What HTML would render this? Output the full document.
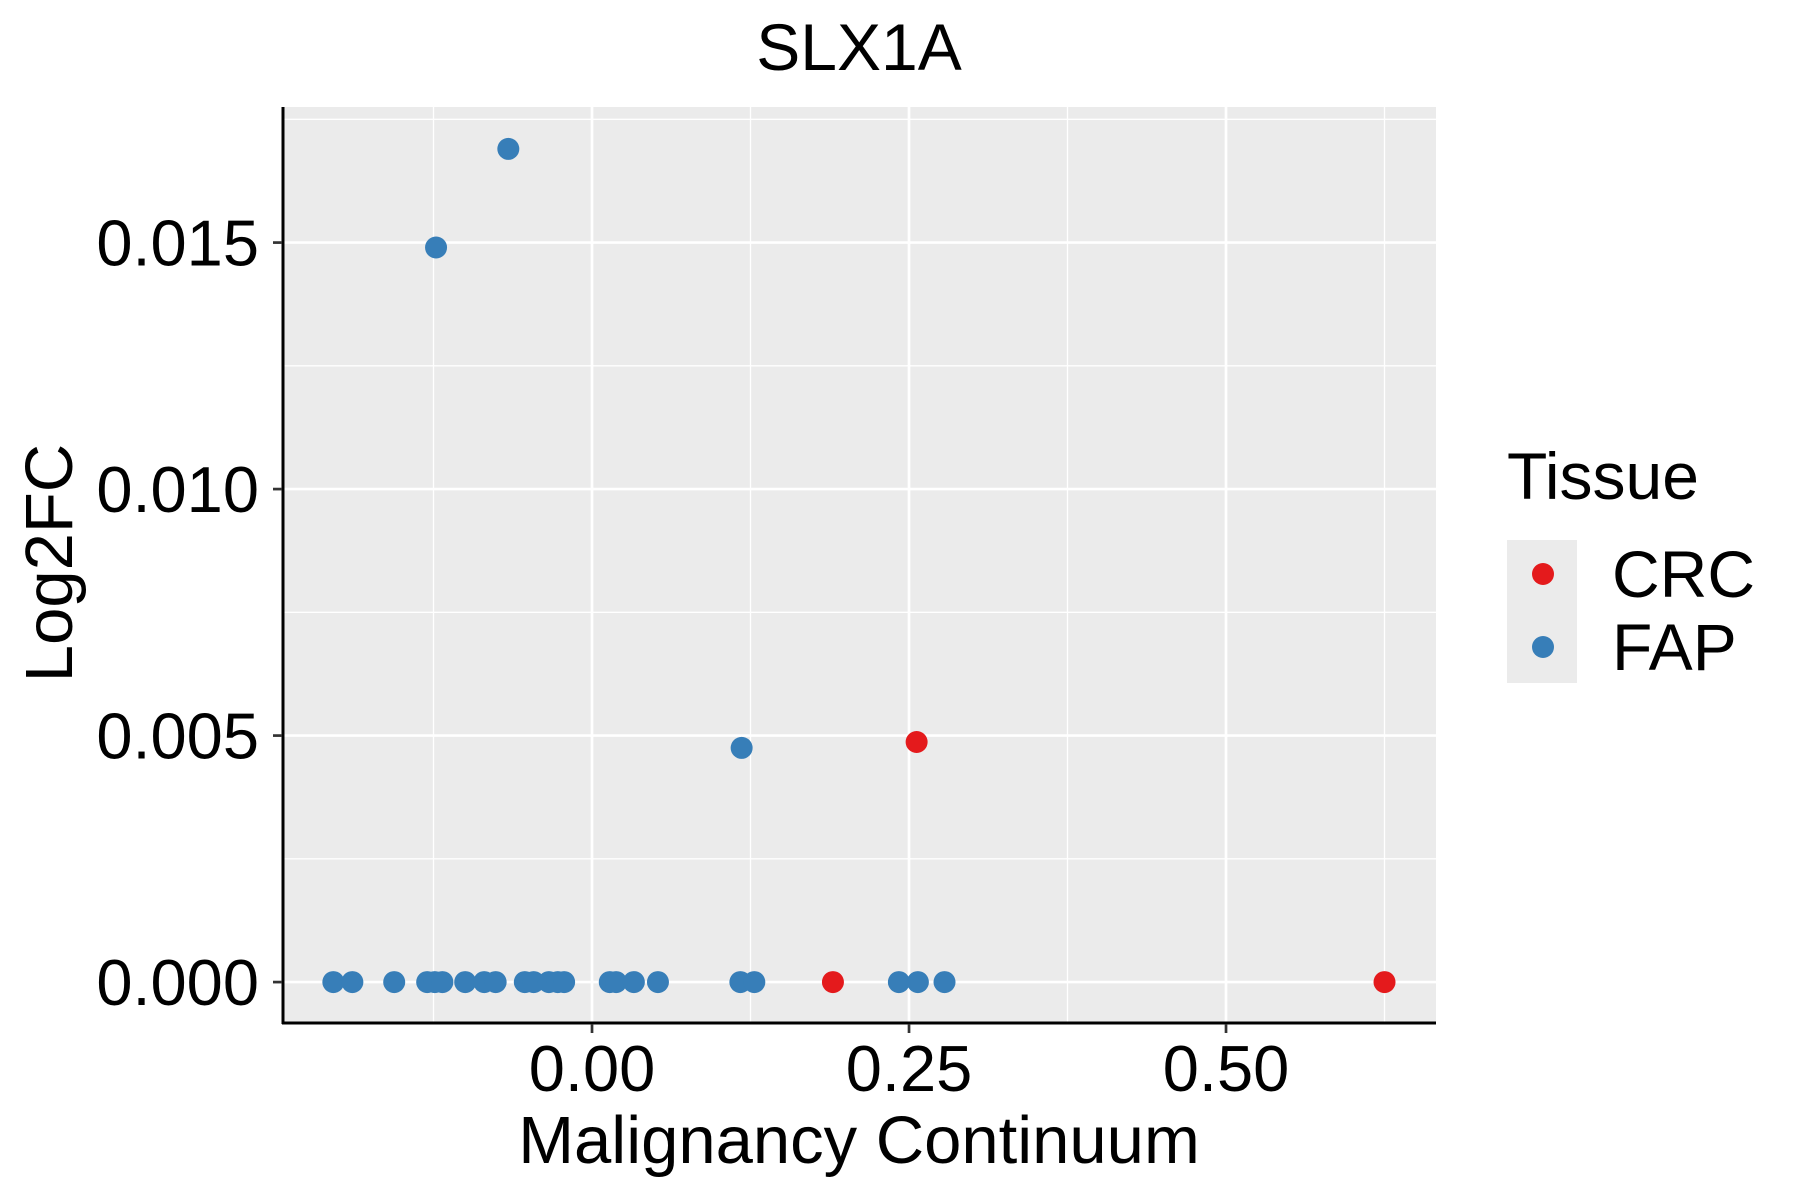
<!DOCTYPE html>
<html><head><meta charset="utf-8"><style>
html,body{margin:0;padding:0;background:#fff}
svg{display:block;font-family:"Liberation Sans",sans-serif}
</style></head><body>
<svg id="chart" width="1800" height="1200" viewBox="0 0 1800 1200">
<text x="859" y="70" font-size="66" text-anchor="middle">SLX1A</text>
<rect x="283" y="107" width="1153" height="916" fill="#ebebeb"/>
<g id="grid"></g>
<g id="points"></g>
<line x1="283" y1="107" x2="283" y2="1024" stroke="#000" stroke-width="3"/>
<line x1="282" y1="1023" x2="1436" y2="1023" stroke="#000" stroke-width="3"/>
<g id="axes"></g>
<text x="859" y="1163" font-size="67" text-anchor="middle">Malignancy Continuum</text>
<text transform="translate(72,563) rotate(-90)" font-size="67" text-anchor="middle">Log2FC</text>
<g>
<text x="1507" y="499" font-size="66">Tissue</text>
<rect x="1507" y="540" width="70" height="143" fill="#ebebeb"/>
<circle cx="1543" cy="574" r="11" fill="#e41a1c"/>
<circle cx="1543" cy="647" r="11" fill="#377eb8"/>
<text x="1612" y="597" font-size="66">CRC</text>
<text x="1612" y="670" font-size="66">FAP</text>
</g>
</svg>
<script>
const xTicks=[0,0.25,0.5];
const xTickLabels=["0.00","0.25","0.50"];
const yTicks=[0,0.005,0.01,0.015];
const yTickLabels=["0.000","0.005","0.010","0.015"];
const xMinor=[-0.125,0.125,0.375,0.625];
const yMinor=[0.0025,0.0075,0.0125,0.0175];
const fapX=[-0.204,-0.189,-0.156,-0.130,-0.124,-0.118,-0.100,-0.085,-0.076,-0.053,-0.046,-0.034,-0.027,-0.022,0.014,0.019,0.033,0.052,0.117,0.128,0.242,0.257,0.278,-0.123,-0.066,0.118];
const fapY=[0,0,0,0,0,0,0,0,0,0,0,0,0,0,0,0,0,0,0,0,0,0,0,0.0149,0.0169,0.00475];
const crcX=[0.190,0.625,0.256];
const crcY=[0,0,0.00487];
const X0=283,X1=1436,Y0=1023,Y1=107;
const xmin=-0.2437,xmax=0.6656,ymin=-0.00083,ymax=0.01775;
const sx=v=>X0+(v-xmin)/(xmax-xmin)*(X1-X0);
const sy=v=>Y0-(v-ymin)/(ymax-ymin)*(Y0-Y1);
const NS="http://www.w3.org/2000/svg";
const grid=document.getElementById('grid'),pts=document.getElementById('points'),axes=document.getElementById('axes');
function mk(tag,attrs,parent){const e=document.createElementNS(NS,tag);for(const k in attrs)e.setAttribute(k,attrs[k]);parent.appendChild(e);return e;}
xMinor.forEach(v=>{const e=mk('line',{x1:sx(v),x2:sx(v),y1:Y1,y2:Y0,stroke:'#fff','stroke-width':1.3},grid);

});
yMinor.forEach(v=>{const e=mk('line',{x1:X0,x2:X1,y1:sy(v),y2:sy(v),stroke:'#fff','stroke-width':1.3},grid);

});
xTicks.forEach((v,i)=>{const e=mk('line',{x1:sx(v),x2:sx(v),y1:Y1,y2:Y0,stroke:'#fff','stroke-width':2.7},grid);


const t=mk('line',{x1:sx(v),x2:sx(v),y1:Y0+1,y2:Y0+10,stroke:'#333','stroke-width':2.7},axes);


const l=mk('text',{x:sx(v),y:1091,'font-size':65,'text-anchor':'middle',fill:'#000'},axes);l.textContent=xTickLabels[i];

});
yTicks.forEach((v,i)=>{const e=mk('line',{x1:X0,x2:X1,y1:sy(v),y2:sy(v),stroke:'#fff','stroke-width':2.7},grid);


const t=mk('line',{x1:X0-10,x2:X0-1,y1:sy(v),y2:sy(v),stroke:'#333','stroke-width':2.7},axes);


const l=mk('text',{x:259,y:sy(v)+23,'font-size':65,'text-anchor':'end',fill:'#000'},axes);l.textContent=yTickLabels[i];

});
fapX.forEach((v,i)=>{const c=mk('circle',{cx:sx(v),cy:sy(fapY[i]),r:11,fill:'#377eb8'},pts);

});
crcX.forEach((v,i)=>{const c=mk('circle',{cx:sx(v),cy:sy(crcY[i]),r:11,fill:'#e41a1c'},pts);

});
</script>
</body></html>
